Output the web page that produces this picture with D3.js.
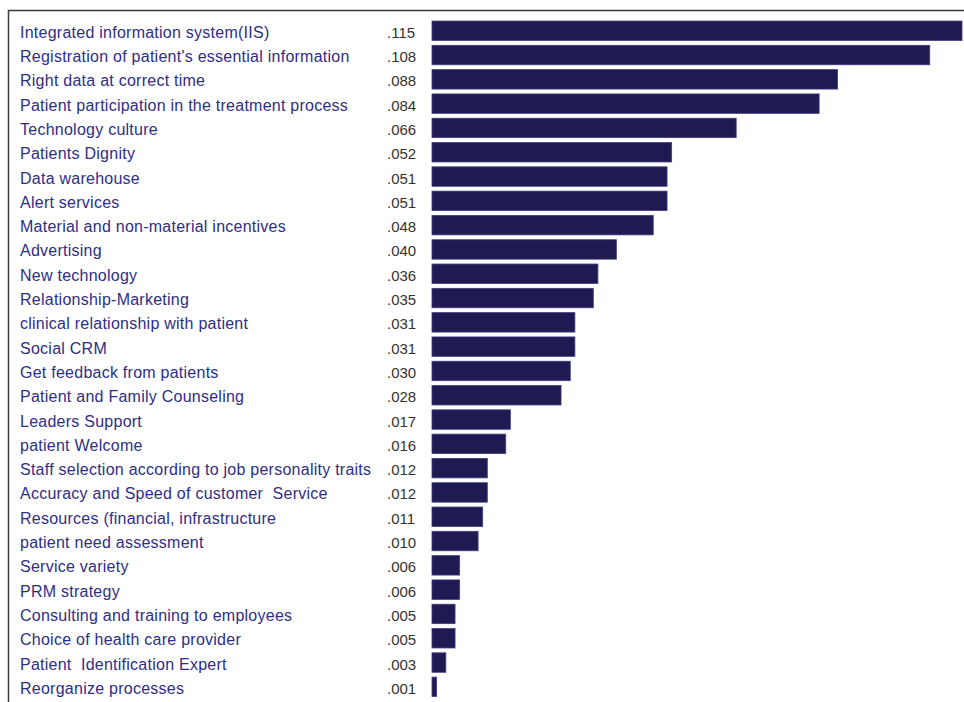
<!doctype html>
<html lang="en">

<head>
  <title>Factor weights</title>
  <meta charset="utf-8" />
  <script src="https://d3js.org/d3.v7.min.js"></script>
  <style>
    body { margin: 0; background: #fff; }
    svg { display: block; }
    text { font-family: "Liberation Sans", Arial, sans-serif; }
  </style>
</head>

<body>
  <figure id="bar-chart" style="margin:0"></figure>

  <script>
    // categories, top to bottom
    const labels = [
      "Integrated information system(IIS)",
      "Registration of patient's essential information",
      "Right data at correct time",
      "Patient participation in the treatment process",
      "Technology culture",
      "Patients Dignity",
      "Data warehouse",
      "Alert services",
      "Material and non-material incentives",
      "Advertising",
      "New technology",
      "Relationship-Marketing",
      "clinical relationship with patient",
      "Social CRM",
      "Get feedback from patients",
      "Patient and Family Counseling",
      "Leaders Support",
      "patient Welcome",
      "Staff selection according to job personality traits",
      "Accuracy and Speed of customer  Service",
      "Resources (financial, infrastructure",
      "patient need assessment",
      "Service variety",
      "PRM strategy",
      "Consulting and training to employees",
      "Choice of health care provider",
      "Patient  Identification Expert",
      "Reorganize processes"
    ];

    // weights as printed next to each bar
    const weights = [
      .115, .108, .088, .084, .066, .052, .051, .051, .048, .040,
      .036, .035, .031, .031, .030, .028, .017, .016, .012, .012,
      .011, .010, .006, .006, .005, .005, .003, .001
    ];

    const data = labels.map((name, i) => ({ name: name, value: weights[i] }));

    const params = {
      width: 964,
      height: 702,
      labelX: 20,
      valueX: 387,
      barX: 432,
      barMax: 962,
      top: 18.6,
      step: 24.3
    };

    const svg = d3.select("#bar-chart").append("svg")
      .attr("width", params.width)
      .attr("height", params.height);

    // frame lines (top and left)
    svg.append("path")
      .attr("d", "M8.5," + params.height + "V10.5H" + params.width)
      .attr("fill", "none")
      .attr("stroke", "#3a3a3a")
      .attr("stroke-width", 1.5);

    const yScale = d3.scaleBand()
      .domain(labels)
      .range([params.top, params.top + params.step * labels.length])
      .paddingInner(0.2)
      .paddingOuter(0.1);

    const xScale = d3.scaleLinear()
      .domain([0, d3.max(weights)])
      .range([0, params.barMax - params.barX]);

    const rows = svg.selectAll("g.row")
      .data(data)
      .enter()
      .append("g")
      .attr("class", "row")
      .attr("transform", d => "translate(0," + yScale(d.name) + ")");

    rows.append("rect")
      .attr("x", params.barX)
      .attr("width", d => xScale(d.value))
      .attr("height", yScale.bandwidth())
      .attr("fill", "#1f1b52")
      .attr("stroke", "#3f3d82")
      .attr("stroke-width", 0.8);

    rows.append("text")
      .text(d => d.name)
      .attr("x", params.labelX)
      .attr("y", yScale.bandwidth() / 2 + 1.5)
      .attr("dominant-baseline", "central")
      .attr("font-size", 16)
      .attr("letter-spacing", 0.25)
      .attr("fill", "#2e2e86")
      .style("white-space", "pre");

    rows.append("text")
      .text(d => d3.format(".3f")(d.value).replace(/^0/, ""))
      .attr("x", params.valueX)
      .attr("y", yScale.bandwidth() / 2 + 1.5)
      .attr("dominant-baseline", "central")
      .attr("font-size", 15)
      .attr("fill", "#333");
  </script>

</body></html>
